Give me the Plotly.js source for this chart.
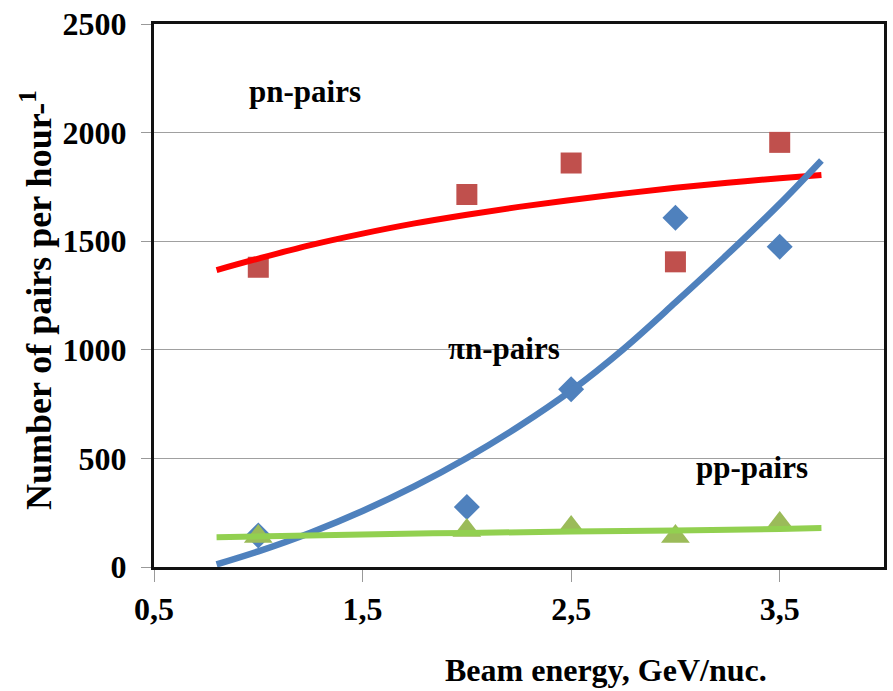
<!DOCTYPE html>
<html>
<head>
<meta charset="utf-8">
<script src="https://cdn.plot.ly/plotly-3.0.1.min.js"></script>
<style>html,body{margin:0;padding:0;background:#fff;}#chart{width:893px;height:691px;}</style>
</head>
<body>
<div id="chart"></div>
<script>
// Measured points
const energy = [1.0, 2.0, 2.5, 3.0, 3.5];
const pnPairs = [1380, 1715, 1860, 1405, 1955];
const piNPairs = [145, 276, 818, 1608, 1475];
const ppPairs = [140, 168, 182, 140, 200];

// Trendlines
const pnTrendX = [0.8, 1.0, 1.25, 1.5, 1.75, 2.0, 2.25, 2.5, 2.75, 3.0, 3.25, 3.5, 3.7];
const pnTrendY = [1367, 1420, 1482, 1535, 1582, 1622, 1658, 1690, 1719, 1746, 1769, 1790, 1805];
const piTrendX = [0.8, 1.0, 1.25, 1.5, 1.75, 2.0, 2.25, 2.5, 2.75, 3.0, 3.25, 3.5, 3.7];
const piTrendY = [12, 72, 158, 258, 372, 502, 648, 812, 1003, 1218, 1440, 1672, 1872];
const ppTrendX = [0.8, 1.5, 2.0, 2.5, 3.0, 3.5, 3.7];
const ppTrendY = [137, 150, 157, 163, 168, 175, 179];

// Axis ticks
const xTickVals = [0.5, 1.5, 2.5, 3.5];
const xTickText = ['0,5', '1,5', '2,5', '3,5'];
const yTickVals = [0, 500, 1000, 1500, 2000, 2500];

const serif = '"Liberation Serif", serif';

const traces = [
  {x: energy, y: pnPairs, mode: 'markers', type: 'scatter',
   marker: {symbol: 'square', size: 21, color: '#C0504D'}},
  {x: energy, y: piNPairs, mode: 'markers', type: 'scatter',
   marker: {symbol: 'diamond', size: 20, color: '#4F81BD'}},
  {x: energy, y: ppPairs, mode: 'markers', type: 'scatter',
   marker: {symbol: 'triangle-up', size: 25, color: '#9BBB59'}},
  {x: pnTrendX, y: pnTrendY, mode: 'lines', type: 'scatter', line: {color: '#FF0000', width: 6, shape: 'spline'}},
  {x: piTrendX, y: piTrendY, mode: 'lines', type: 'scatter', line: {color: '#4F81BD', width: 6.5, shape: 'spline'}},
  {x: ppTrendX, y: ppTrendY, mode: 'lines', type: 'scatter', line: {color: '#92D050', width: 6, shape: 'spline'}}
];

const layout = {
  width: 893, height: 691,
  margin: {l: 154, r: 9, t: 24, b: 124},
  paper_bgcolor: '#fff', plot_bgcolor: '#fff',
  showlegend: false,
  font: {family: serif, size: 32, color: '#000'},
  xaxis: {
    range: [0.5, 4.0], tickvals: xTickVals, ticktext: xTickText,
    showgrid: false, zeroline: false,
    showline: true, linecolor: '#111', linewidth: 3, mirror: true,
    ticks: 'outside', ticklen: 12, tickcolor: '#999', tickwidth: 1,
    tickfont: {family: serif, size: 32, color: '#000', weight: 'bold'},
    ticklabelstandoff: 0
  },
  yaxis: {
    range: [0, 2500], tickvals: yTickVals,
    showgrid: true, gridcolor: '#A0A0A0', gridwidth: 1, zeroline: false,
    showline: true, linecolor: '#111', linewidth: 3, mirror: true,
    ticks: 'outside', ticklen: 10, tickcolor: '#999', tickwidth: 1,
    tickfont: {family: serif, size: 32, color: '#000', weight: 'bold'},
    ticklabelstandoff: 8
  },
  annotations: [
    {text: 'pn-pairs', x: 1.224, y: 2187, xref: 'x', yref: 'y', showarrow: false,
     font: {family: serif, size: 31, weight: 'bold', color: '#000'}},
    {text: 'πn-pairs', x: 2.178, y: 1008, xref: 'x', yref: 'y', showarrow: false,
     font: {family: serif, size: 31, weight: 'bold', color: '#000'}},
    {text: 'pp-pairs', x: 3.369, y: 456, xref: 'x', yref: 'y', showarrow: false,
     font: {family: serif, size: 31, weight: 'bold', color: '#000'}},
    {text: 'Beam energy, GeV/nuc.', x: 0.619, y: -0.19, xref: 'paper', yref: 'paper',
     xanchor: 'center', yanchor: 'middle', showarrow: false,
     font: {family: serif, size: 32, weight: 'bold', color: '#000'}},
    {text: 'Number of pairs per hour-<sup>1</sup>', x: -0.16, y: 0.492, xref: 'paper', yref: 'paper',
     xanchor: 'center', yanchor: 'middle', textangle: -90, showarrow: false,
     font: {family: serif, size: 36, weight: 'bold', color: '#000'}}
  ]
};

Plotly.newPlot('chart', traces, layout, {displayModeBar: false, staticPlot: true});
</script>
</body>
</html>
